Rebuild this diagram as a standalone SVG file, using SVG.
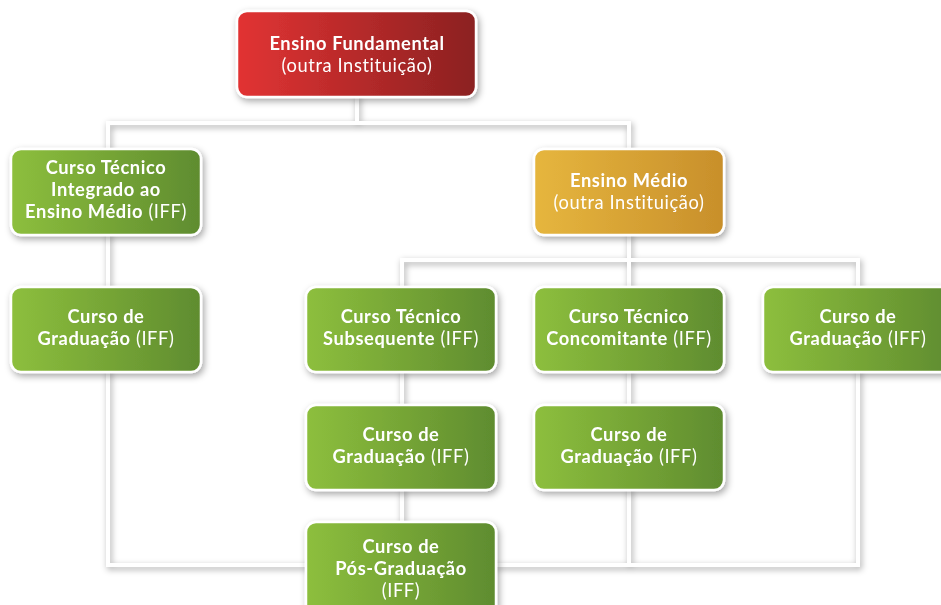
<svg xmlns="http://www.w3.org/2000/svg" width="941" height="605" viewBox="0 0 941 605">
<defs>
<linearGradient id="gGreen" x1="0" y1="0" x2="1" y2="0"><stop offset="0" stop-color="#8dbf3d"/><stop offset="1" stop-color="#5f8c2f"/></linearGradient>
<linearGradient id="gRed" x1="0" y1="0" x2="1" y2="0"><stop offset="0" stop-color="#e23333"/><stop offset="1" stop-color="#8b2121"/></linearGradient>
<linearGradient id="gGold" x1="0" y1="0" x2="1" y2="0"><stop offset="0" stop-color="#e6b63e"/><stop offset="1" stop-color="#c88f2b"/></linearGradient>
<filter id="sh" x="-20%" y="-30%" width="140%" height="160%"><feDropShadow dx="2" dy="3" stdDeviation="3.5" flood-color="#000" flood-opacity="0.35"/></filter>
<filter id="lsh" x="-10%" y="-10%" width="120%" height="120%"><feDropShadow dx="1.5" dy="2.5" stdDeviation="3" flood-color="#000" flood-opacity="0.35"/></filter>
<style>
.box{stroke:#ffffff;stroke-width:2.5}
.g{fill:url(#gGreen)}
.t{font-family:Lato,"Open Sans","Liberation Sans",sans-serif;font-size:18.3px;fill:#ffffff;text-anchor:middle;letter-spacing:0.6px}
.b{font-weight:bold}
.r{font-weight:normal}
.ln{fill:none;stroke:#ffffff;stroke-width:4;stroke-linecap:square}
</style>
</defs>
<rect width="941" height="605" fill="#ffffff"/>
<g id="connectors" filter="url(#lsh)">
<path class="ln" d="M357 97 V123 M108 123 H629 M108 123 V149 M629 123 V149"/>
<path class="ln" d="M108 235 V287 M108 372 V565 H306"/>
<path class="ln" d="M629 235 V260 M402 260 H858 M402 260 V287 M629 260 V287 M858 260 V287"/>
<path class="ln" d="M402 372 V405 M402 490 V522"/>
<path class="ln" d="M629 372 V405 M629 490 V565 M496 565 H858 M858 372 V565"/>
</g>
<g id="n-fundamental" filter="url(#sh)">
<rect class="box" x="237" y="11" width="239" height="86" rx="10" fill="url(#gRed)"/>
<text class="t b" x="357" y="50">Ensino Fundamental</text>
<text class="t r" x="357" y="72">(outra Instituição)</text>
</g>
<g id="n-integrado" filter="url(#sh)">
<rect class="box g" x="11" y="149" width="190" height="86" rx="10"/>
<text class="t b" x="106" y="174">Curso Técnico</text>
<text class="t b" x="106" y="196">Integrado ao</text>
<text class="t" x="106" y="218"><tspan class="b">Ensino Médio</tspan> <tspan class="r">(IFF)</tspan></text>
</g>
<g id="n-medio" filter="url(#sh)">
<rect class="box" x="534" y="149" width="190" height="86" rx="10" fill="url(#gGold)"/>
<text class="t b" x="629" y="187">Ensino Médio</text>
<text class="t r" x="629" y="209">(outra Instituição)</text>
</g>
<g id="n-grad-esq" filter="url(#sh)">
<rect class="box g" x="11" y="287" width="190" height="85" rx="10"/>
<text class="t b" x="106" y="323">Curso de</text>
<text class="t" x="106" y="345"><tspan class="b">Graduação</tspan> <tspan class="r">(IFF)</tspan></text>
</g>
<g id="n-subsequente" filter="url(#sh)">
<rect class="box g" x="306" y="287" width="190" height="85" rx="10"/>
<text class="t b" x="401" y="323">Curso Técnico</text>
<text class="t" x="401" y="345"><tspan class="b">Subsequente</tspan> <tspan class="r">(IFF)</tspan></text>
</g>
<g id="n-concomitante" filter="url(#sh)">
<rect class="box g" x="534" y="287" width="190" height="85" rx="10"/>
<text class="t b" x="629" y="323">Curso Técnico</text>
<text class="t" x="629" y="345"><tspan class="b">Concomitante</tspan> <tspan class="r">(IFF)</tspan></text>
</g>
<g id="n-grad-dir" filter="url(#sh)">
<rect class="box g" x="763" y="287" width="190" height="85" rx="10"/>
<text class="t b" x="858" y="323">Curso de</text>
<text class="t" x="858" y="345"><tspan class="b">Graduação</tspan> <tspan class="r">(IFF)</tspan></text>
</g>
<g id="n-grad-sub" filter="url(#sh)">
<rect class="box g" x="306" y="405" width="190" height="85" rx="10"/>
<text class="t b" x="401" y="441">Curso de</text>
<text class="t" x="401" y="463"><tspan class="b">Graduação</tspan> <tspan class="r">(IFF)</tspan></text>
</g>
<g id="n-grad-conc" filter="url(#sh)">
<rect class="box g" x="534" y="405" width="190" height="85" rx="10"/>
<text class="t b" x="629" y="441">Curso de</text>
<text class="t" x="629" y="463"><tspan class="b">Graduação</tspan> <tspan class="r">(IFF)</tspan></text>
</g>
<g id="n-posgrad" filter="url(#sh)">
<rect class="box g" x="306" y="522" width="190" height="95" rx="10"/>
<text class="t b" x="401" y="553">Curso de</text>
<text class="t b" x="401" y="575">Pós-Graduação</text>
<text class="t r" x="401" y="597">(IFF)</text>
</g>
</svg>
